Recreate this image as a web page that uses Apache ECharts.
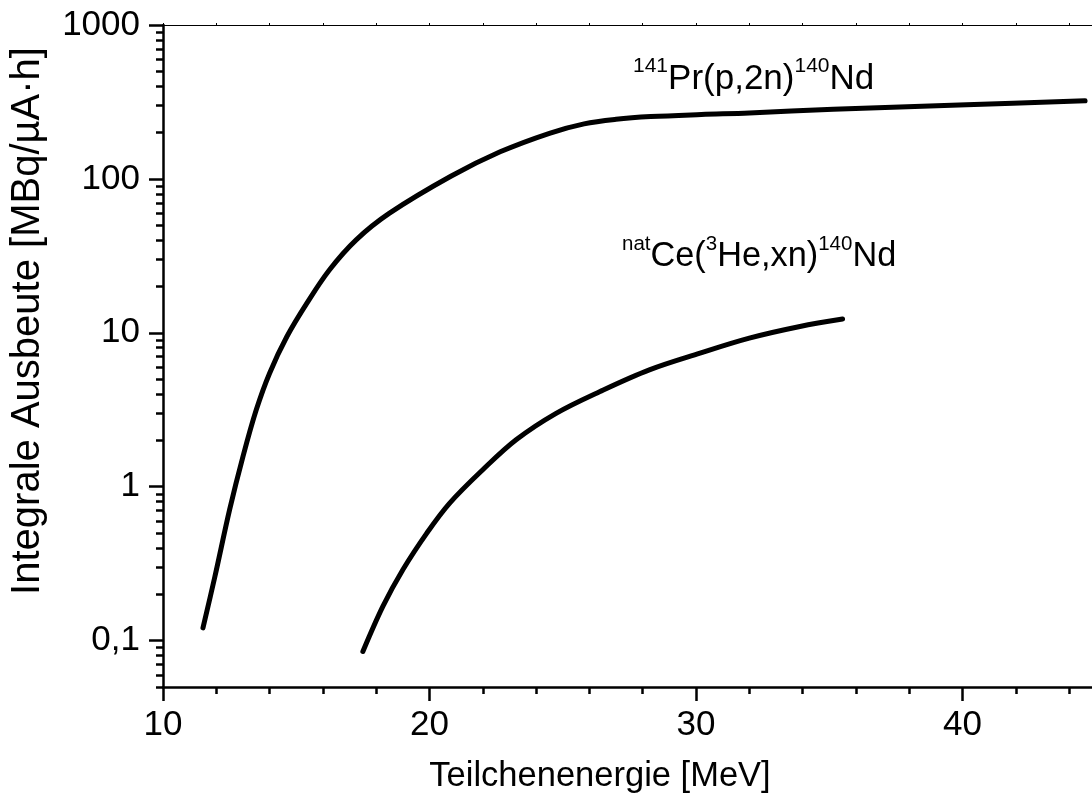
<!DOCTYPE html>
<html>
<head>
<meta charset="utf-8">
<script src="https://cdn.jsdelivr.net/npm/echarts@6/dist/echarts.min.js"></script>
<style>
  html, body { margin: 0; padding: 0; background: #fff; }
  #main { width: 1092px; height: 799px; }
</style>
</head>
<body>
<div id="main"></div>
<script>
// Teilchenenergie [MeV] und integrale Ausbeute [MBq/µA·h]
var prEnergy = [11.5, 11.95, 12.5, 13.0, 13.5, 14.0, 14.65, 15.4, 16.25, 17.25, 18.5, 20.8, 22.65, 24.5, 25.8, 27.0, 28.3, 30.2, 32.0, 35.15, 40.15, 44.6];
var prYield  = [0.121, 0.262, 0.71, 1.57, 3.16, 5.47, 9.46, 15.6, 25.7, 40.2, 59.9, 104, 150, 198, 228, 244, 254, 262, 268, 284, 303, 322];

var ceEnergy = [17.5, 18.25, 19.0, 19.9, 20.75, 22.0, 23.25, 24.75, 26.4, 28.25, 30.15, 32.0, 33.9, 35.5];
var ceYield  = [0.085, 0.167, 0.289, 0.5, 0.78, 1.29, 2.02, 3.0, 4.16, 5.75, 7.38, 9.24, 11.0, 12.3];

var yMajorTicks = [0.1, 1, 10, 100, 1000];
var yMinorTicks = [0.05, 0.06, 0.07, 0.08, 0.09,
  0.2, 0.3, 0.4, 0.5, 0.6, 0.7, 0.8, 0.9,
  2, 3, 4, 5, 6, 7, 8, 9,
  20, 30, 40, 50, 60, 70, 80, 90,
  200, 300, 400, 500, 600, 700, 800, 900];

function pairs(xs, ys) {
  return xs.map(function (x, i) { return [x, ys[i]]; });
}

var font = 'Arial, "Liberation Sans", sans-serif';
var chart = echarts.init(document.getElementById('main'));

var option = {
  backgroundColor: '#fff',
  animation: false,
  grid: { left: 163, top: 25, width: 1066, height: 662, outerBoundsMode: 'none', containLabel: false },
  xAxis: [{
    type: 'value', min: 10, max: 50, interval: 10,
    name: 'Teilchenenergie [MeV]', nameLocation: 'middle', nameGap: 72,
    nameTextStyle: { fontFamily: font, fontSize: 34.5, color: '#000', padding: [0, 192, 0, 0] },
    axisLine: { lineStyle: { color: '#000', width: 2.5 } },
    axisTick: { inside: false, length: 14, lineStyle: { color: '#000', width: 2.5 } },
    minorTick: { show: true, splitNumber: 5, length: 7, lineStyle: { color: '#000', width: 2.5 } },
    axisLabel: { margin: 21, fontFamily: font, fontSize: 35, color: '#000',
      formatter: function (v) { return v >= 50 ? '' : String(v); } },
    splitLine: { show: false }
  }, {
    type: 'value', min: 10, max: 50, interval: 10, position: 'top',
    axisLine: { lineStyle: { color: '#000', width: 1.2 } },
    axisTick: { inside: false, length: 2, lineStyle: { color: '#000', width: 1 } },
    minorTick: { show: true, splitNumber: 5, length: 2, lineStyle: { color: '#000', width: 1 } },
    axisLabel: { show: false },
    splitLine: { show: false }
  }],
  yAxis: [{
    type: 'log', logBase: 10, min: 0.05, max: 1000,
    name: 'Integrale Ausbeute [MBq/µA·h]', nameLocation: 'middle', nameGap: 115,
    nameTextStyle: { fontFamily: font, fontSize: 40, color: '#000', padding: [0, 0, 0, 70] },
    axisLine: { lineStyle: { color: '#000', width: 2.5 } },
    axisTick: { inside: false, length: 14, customValues: yMajorTicks, lineStyle: { color: '#000', width: 2.5 } },
    axisLabel: { margin: 23, fontFamily: font, fontSize: 35, color: '#000', customValues: yMajorTicks,
      formatter: function (v) { return String(v).replace('.', ','); } },
    splitLine: { show: false }
  }, {
    type: 'log', logBase: 10, min: 0.05, max: 1000, position: 'left',
    axisLine: { show: false },
    axisTick: { inside: false, length: 7, customValues: yMinorTicks, lineStyle: { color: '#000', width: 2.5 } },
    axisLabel: { show: false },
    splitLine: { show: false }
  }],
  graphic: [{
    type: 'text', left: 633, top: 56,
    style: {
      text: '{s|141}{n|Pr(p,2n)}{s|140}{n|Nd}',
      fill: '#000',
      rich: {
        n: { fontFamily: font, fontSize: 35, lineHeight: 46, fill: '#000' },
        s: { fontFamily: font, fontSize: 21, lineHeight: 16, verticalAlign: 'top', fill: '#000' }
      }
    }
  }, {
    type: 'text', left: 622, top: 234,
    style: {
      text: '{s|nat}{n|Ce(}{s|3}{n|He,xn)}{s|140}{n|Nd}',
      fill: '#000',
      rich: {
        n: { fontFamily: font, fontSize: 34.3, lineHeight: 46, fill: '#000' },
        s: { fontFamily: font, fontSize: 20.5, lineHeight: 16, verticalAlign: 'top', fill: '#000' }
      }
    }
  }],
  series: [{
    name: '141Pr(p,2n)140Nd', type: 'line', xAxisIndex: 0, yAxisIndex: 0,
    data: pairs(prEnergy, prYield),
    showSymbol: false, smooth: 0.35,
    lineStyle: { color: '#000', width: 5, cap: 'round', join: 'round' }
  }, {
    name: 'natCe(3He,xn)140Nd', type: 'line', xAxisIndex: 0, yAxisIndex: 0,
    data: pairs(ceEnergy, ceYield),
    showSymbol: false, smooth: 0.35,
    lineStyle: { color: '#000', width: 5, cap: 'round', join: 'round' }
  }]
};

chart.setOption(option);
</script>
</body>
</html>
